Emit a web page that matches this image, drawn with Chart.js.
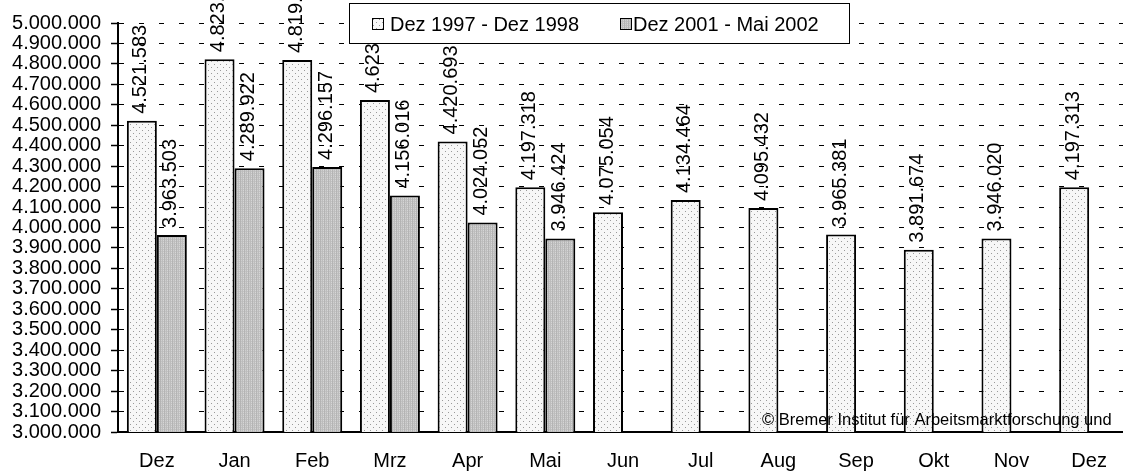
<!DOCTYPE html>
<html><head><meta charset="utf-8">
<script src="https://cdn.jsdelivr.net/npm/chart.js@4"></script>
<style>html,body{margin:0;padding:0;background:#fff;overflow:hidden;width:1123px;height:473px}canvas{display:block}</style>
</head><body><canvas id="c" width="1128" height="473"></canvas>
<script>
const categories = ['Dez','Jan','Feb','Mrz','Apr','Mai','Jun','Jul','Aug','Sep','Okt','Nov','Dez'];
const series1Label = 'Dez 1997 - Dez 1998';
const series2Label = 'Dez 2001 - Mai 2002';
const series1 = [4521583, 4823000, 4819000, 4623000, 4420693, 4197318, 4075054, 4134464, 4095432, 3965381, 3891674, 3946020, 4197313];
const series2 = [3963503, 4289922, 4296157, 4156016, 4024052, 3946424, null, null, null, null, null, null, null];
const yMin = 3000000, yMax = 5000000, yStep = 100000;
const copyrightText = '© Bremer Institut für Arbeitsmarktforschung und';

const FONT = "'Liberation Sans', Arial, sans-serif";
function fmt(v){ return Math.round(v).toString().replace(/\B(?=(\d{3})+(?!\d))/g,'.'); }

function dotPattern(){
  const c=document.createElement('canvas'); c.width=6; c.height=6;
  const g=c.getContext('2d');
  g.fillStyle='#f7f7f7'; g.fillRect(0,0,6,6);
  g.fillStyle='#9a9a9a'; g.fillRect(1,1,1,1); g.fillRect(4,4,1,1);
  return g.createPattern(c,'repeat');
}
function hatchPattern(){
  const c=document.createElement('canvas'); c.width=4; c.height=2;
  const g=c.getContext('2d');
  const cols=['#b4b4b4','#cfcfcf','#bcbcbc','#d6d6d6'];
  for(let i=0;i<4;i++){ g.fillStyle=cols[i]; g.fillRect(i,0,1,2); }
  g.fillStyle='#c2c2c2'; g.fillRect(1,1,1,1); g.fillRect(3,1,1,1);
  return g.createPattern(c,'repeat');
}
const pat1 = dotPattern(), pat2 = hatchPattern();

const overlayPlugin = {
  id:'overlay',
  beforeDatasetsDraw(chart){
    const ctx=chart.ctx, a=chart.chartArea;
    ctx.save(); ctx.fillStyle='#fff';
    ctx.fillRect(745, 402, a.right-745, a.bottom-402-1);
    ctx.restore();
  },
  afterDatasetsDraw(chart){
    const ctx=chart.ctx;
    ctx.save();
    ctx.fillStyle='#000'; ctx.font='20px '+FONT;
    ctx.textAlign='left'; ctx.textBaseline='middle';
    chart.data.datasets.forEach((ds,di)=>{
      const meta=chart.getDatasetMeta(di);
      meta.data.forEach((el,i)=>{
        const v=ds.data[i]; if(v==null) return;
        ctx.save(); ctx.translate(el.x-1, el.y-7); ctx.rotate(-Math.PI/2);
        ctx.fillText(fmt(v),0,0); ctx.restore();
      });
    });
    ctx.restore();
  },
  afterDraw(chart){
    const ctx=chart.ctx, a=chart.chartArea;
    ctx.save();
    ctx.beginPath(); ctx.rect(0,0,chart.width,a.bottom-1); ctx.clip();
    ctx.fillStyle='#000'; ctx.font='16.5px '+FONT; ctx.textBaseline='alphabetic'; ctx.textAlign='left';
    ctx.fillText(copyrightText, 762, 425);
    ctx.restore();
    ctx.save();
    ctx.fillStyle='#fff'; ctx.fillRect(349.5,3.5,500,40);
    ctx.strokeStyle='#000'; ctx.lineWidth=1; ctx.strokeRect(349.5,3.5,500,40);
    const items=[[372,390,chart.data.datasets[0]],[620,633,chart.data.datasets[1]]];
    ctx.font='20px '+FONT; ctx.textBaseline='middle'; ctx.textAlign='left';
    items.forEach(([bx,tx,ds])=>{
      ctx.fillStyle=ds.backgroundColor; ctx.fillRect(bx+0.5,18.5,11,11);
      ctx.strokeStyle='#000'; ctx.strokeRect(bx+0.5,18.5,11,11);
      ctx.fillStyle='#000'; ctx.fillText(ds.label, tx, 25);
    });
    ctx.restore();
  }
};

new Chart(document.getElementById('c'), {
  type:'bar',
  data:{
    labels:categories,
    datasets:[
      {label:series1Label, data:series1, backgroundColor:pat1, borderColor:'#000', borderWidth:2, categoryPercentage:0.772, barPercentage:1},
      {label:series2Label, data:series2, backgroundColor:pat2, borderColor:'#000', borderWidth:2, categoryPercentage:0.772, barPercentage:1}
    ]
  },
  options:{
    responsive:false, animation:false, devicePixelRatio:1,
    layout:{padding:{top:23,left:0,right:0,bottom:0}},
    plugins:{legend:{display:false}, tooltip:{enabled:false}},
    scales:{
      x:{
        afterFit(s){ s.height = 41; },
        grid:{display:false, drawTicks:false},
        border:{color:'#000', width:2},
        ticks:{color:'#000', font:{family:FONT, size:20}, padding:17, maxRotation:0, autoSkip:false}
      },
      y:{
        afterFit(s){ s.width = 118; },
        min:yMin, max:yMax,
        ticks:{stepSize:yStep, callback:fmt, color:'#000', font:{family:FONT, size:20}, padding:10, autoSkip:false},
        grid:{color:'#000', lineWidth:1, tickLength:7, tickColor:'#000', tickWidth:1.5, tickBorderDash:[]},
        border:{color:'#000', width:2, dash:[5,15]}
      }
    }
  },
  plugins:[overlayPlugin]
});
</script>
</body></html>
